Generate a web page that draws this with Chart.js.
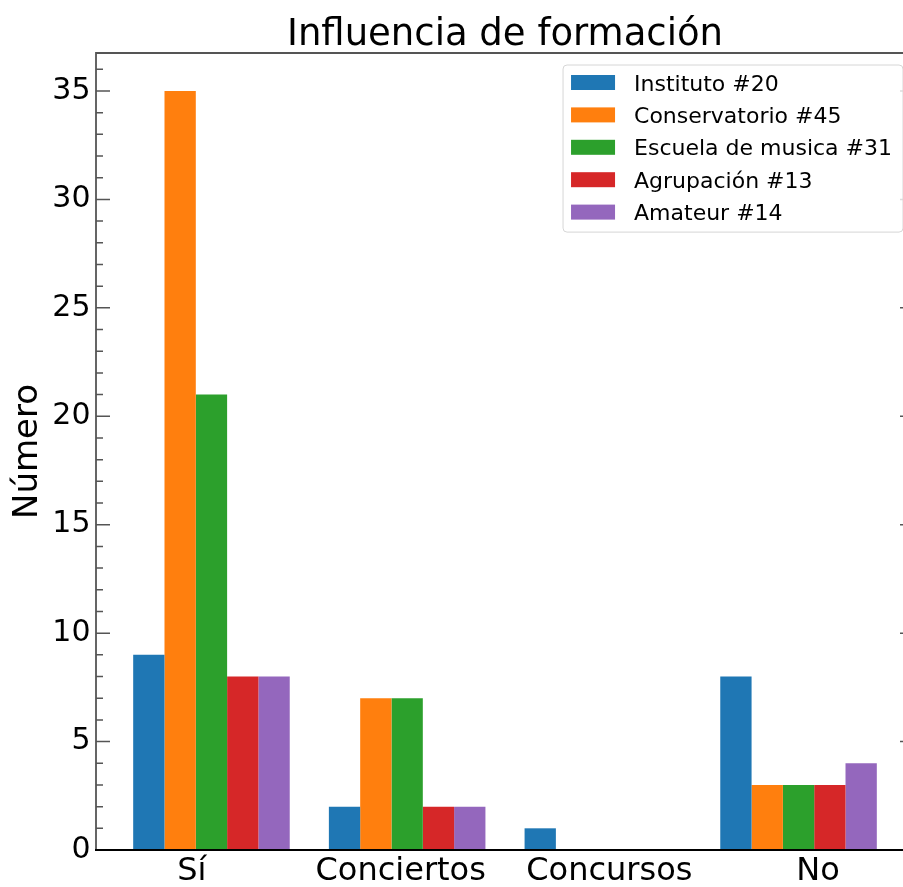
<!DOCTYPE html>
<html>
<head>
<meta charset="utf-8">
<script src="https://cdn.jsdelivr.net/npm/chart.js@4.4.0/dist/chart.umd.min.js"></script>
<style>
  html, body { margin: 0; padding: 0; background: #fff; overflow: hidden; }
  #wrap { width: 930px; height: 887px; }
</style>
</head>
<body>
<div id="wrap"><canvas id="chart"></canvas></div>
<script>
const categories = ["Sí", "Conciertos", "Concursos", "No"];
const seriesNames = ["Instituto #20", "Conservatorio #45", "Escuela de musica #31", "Agrupación #13", "Amateur #14"];
const colors = ["#1f77b4", "#ff7f0e", "#2ca02c", "#d62728", "#9467bd"];

const instituto = [9, 2, 1, 8];
const conservatorio = [35, 7, 0, 3];
const escuela = [21, 7, 0, 3];
const agrupacion = [8, 2, 0, 3];
const amateur = [8, 2, 0, 4];

// where the category labels sit (they are not under the group centres)
const xTickPos = [-0.1, 0.967, 2.033, 3.1];
const yTicks = [0, 5, 10, 15, 20, 25, 30, 35];

const FONT = "'DejaVu Sans', sans-serif";
const series = [instituto, conservatorio, escuela, agrupacion, amateur];

// spines, inward ticks, legend and title drawn on top of the bars
const framePlugin = {
  id: "frame",
  afterDatasetsDraw(chart) {
    const { ctx, chartArea: a, scales: { y } } = chart;
    ctx.save();

    // ticks (major every 5, minor every 1), left and right
    ctx.strokeStyle = "#555";
    ctx.lineWidth = 1.5;
    for (let v = 0; v <= y.max; v++) {
      const py = y.getPixelForValue(v);
      const len = v % 5 === 0 ? 14 : 7;
      ctx.beginPath();
      ctx.moveTo(a.left, py);
      ctx.lineTo(a.left + len, py);
      ctx.moveTo(a.right, py);
      ctx.lineTo(a.right - len, py);
      ctx.stroke();
    }

    // spines
    ctx.strokeStyle = "#555";
    ctx.lineWidth = 1.8;
    ctx.beginPath();
    ctx.moveTo(a.left, a.bottom);
    ctx.lineTo(a.left, a.top);
    ctx.lineTo(a.right, a.top);
    ctx.lineTo(a.right, a.bottom);
    ctx.stroke();
    ctx.strokeStyle = "#000";
    ctx.lineWidth = 2;
    ctx.beginPath();
    ctx.moveTo(a.left - 1, a.bottom);
    ctx.lineTo(a.right + 1, a.bottom);
    ctx.stroke();

    // legend, upper right inside the axes
    ctx.font = "22px " + FONT;
    let maxW = 0;
    chart.data.datasets.forEach(d => { maxW = Math.max(maxW, ctx.measureText(d.label).width); });
    const rowH = 32.4;
    const boxW = 8 + 44 + 19 + maxW + 11;
    const boxH = 17.5 + rowH * 4 + 20;
    const bx = a.right - 11 - boxW;
    const by = a.top + 12;
    ctx.beginPath();
    ctx.roundRect(bx, by, boxW, boxH, 4);
    ctx.fillStyle = "rgba(255,255,255,0.8)";
    ctx.fill();
    ctx.strokeStyle = "#d6d6d6";
    ctx.lineWidth = 1;
    ctx.stroke();
    chart.data.datasets.forEach((d, i) => {
      const cy = by + 17.5 + i * rowH;
      ctx.fillStyle = d.backgroundColor;
      ctx.fillRect(bx + 8, cy - 7.5, 44, 15);
      ctx.fillStyle = "#000";
      ctx.textAlign = "left";
      ctx.textBaseline = "alphabetic";
      ctx.fillText(d.label, bx + 71, cy + 8);
    });

    // title over the axes
    ctx.font = "37px " + FONT;
    ctx.fillStyle = "#000";
    ctx.textAlign = "center";
    ctx.textBaseline = "alphabetic";
    ctx.fillText("Influencia de formación", (a.left + a.right) / 2, 45);

    ctx.restore();
  }
};

new Chart(document.getElementById("chart"), {
  type: "bar",
  data: {
    datasets: series.map((vals, i) => ({
      label: seriesNames[i],
      data: vals.map((v, j) => ({ x: j, y: v })),
      backgroundColor: colors[i],
      borderWidth: 0,
      categoryPercentage: 0.8,
      barPercentage: 1.0
    }))
  },
  options: {
    responsive: true,
    maintainAspectRatio: false,
    animation: false,
    layout: { padding: { left: 0, right: 16, top: 53, bottom: 0 } },
    plugins: {
      legend: { display: false },
      title: { display: false },
      tooltip: { enabled: false }
    },
    scales: {
      x: {
        type: "linear",
        offset: false,
        min: -0.59,
        max: 3.59,
        grid: { display: false, drawTicks: false },
        border: { display: false },
        afterBuildTicks: (scale) => { scale.ticks = xTickPos.map(v => ({ value: v })); },
        afterFit: (scale) => { scale.height = 37; },
        ticks: {
          autoSkip: false,
          maxRotation: 0,
          padding: 6,
          color: "#000",
          font: { family: FONT, size: 32, lineHeight: 1 },
          callback: (v, i) => categories[i]
        }
      },
      y: {
        min: 0,
        max: 36.75,
        grid: { display: false, drawTicks: false },
        border: { display: false },
        afterBuildTicks: (scale) => { scale.ticks = yTicks.map(v => ({ value: v })); },
        afterFit: (scale) => { scale.width = 96; },
        ticks: {
          padding: 5.5,
          color: "#000",
          font: { family: FONT, size: 30, lineHeight: 1 }
        },
        title: {
          display: true,
          text: "Número",
          color: "#000",
          padding: { top: 11, bottom: 0 },
          font: { family: FONT, size: 34, lineHeight: 1 }
        }
      }
    }
  },
  plugins: [framePlugin]
});
</script>
</body>
</html>
